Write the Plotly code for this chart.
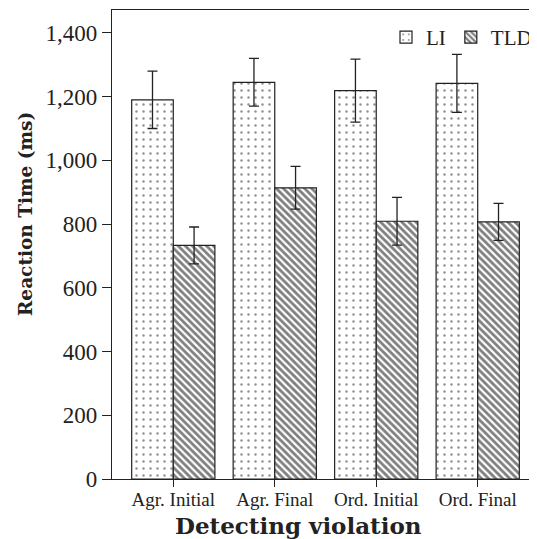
import plotly.graph_objects as go

categories = ["Agr. Initial", "Agr. Final", "Ord. Initial", "Ord. Final"]
li_values = [1190, 1245, 1219, 1242]
li_errors = [90, 75, 99, 91]
tld_values = [733, 914, 809, 807]
tld_errors = [58, 67, 75, 58]
y_ticks = [0, 200, 400, 600, 800, 1000, 1200, 1400]
y_tick_labels = ["0", "200", "400", "600", "800", "1,000", "1,200", "1,400"]

FONT = "Liberation Serif"
BOLD = "DejaVu Serif"

fig = go.Figure()
fig.add_trace(go.Bar(
    name="LI", x=categories, y=li_values,
    error_y=dict(type="data", array=li_errors, color="#222", thickness=1.3, width=5),
    marker=dict(color="white", line=dict(color="#222", width=1.2),
                pattern=dict(shape=".", size=7, solidity=0.1, fgcolor="#222", bgcolor="white")),
))
fig.add_trace(go.Bar(
    name="TLD", x=categories, y=tld_values,
    error_y=dict(type="data", array=tld_errors, color="#222", thickness=1.3, width=5),
    marker=dict(color="white", line=dict(color="#222", width=1.2),
                pattern=dict(shape="\\", size=5, solidity=0.55, fgcolor="#000", bgcolor="white")),
))

fig.update_layout(
    width=529, height=531,
    margin=dict(l=104, r=0, t=2, b=60),
    paper_bgcolor="white", plot_bgcolor="white",
    barmode="group", bargap=0.18, bargroupgap=0,
    font=dict(family=FONT, color="#222"),
    showlegend=True,
    legend=dict(orientation="h", x=1.012, y=0.985, xanchor="right", yanchor="top",
                font=dict(size=21, family=FONT), bgcolor="rgba(0,0,0,0)",
                itemwidth=30, tracegroupgap=0),
    annotations=[
        dict(text="<b>Detecting violation</b>", xref="paper", yref="paper",
             x=0.4447, y=0, xanchor="center", yanchor="middle", yshift=-46,
             showarrow=False, font=dict(size=23, family=BOLD, color="#222")),
        dict(text="<b>Reaction Time (ms)</b>", xref="paper", yref="paper",
             x=0, y=0.565, xanchor="center", yanchor="middle", xshift=-87,
             textangle=-90, showarrow=False, font=dict(size=18.5, family=BOLD, color="#222")),
    ],
)
fig.update_xaxes(
    range=[-0.604, 3.535],
    showline=True, linecolor="#222", linewidth=1.3, mirror=True,
    ticks="outside", ticklen=7, tickcolor="#222",
    tickfont=dict(size=19, family=FONT),
    ticklabelstandoff=-4,
    showgrid=False,
)
fig.update_yaxes(
    range=[0, 1472],
    tickvals=y_ticks, ticktext=y_tick_labels,
    showline=True, linecolor="#222", linewidth=1.3,
    ticks="outside", ticklen=9, tickcolor="#222",
    tickfont=dict(size=23, family=FONT),
    showgrid=False, zeroline=False,
)

fig.write_html("out.html")
